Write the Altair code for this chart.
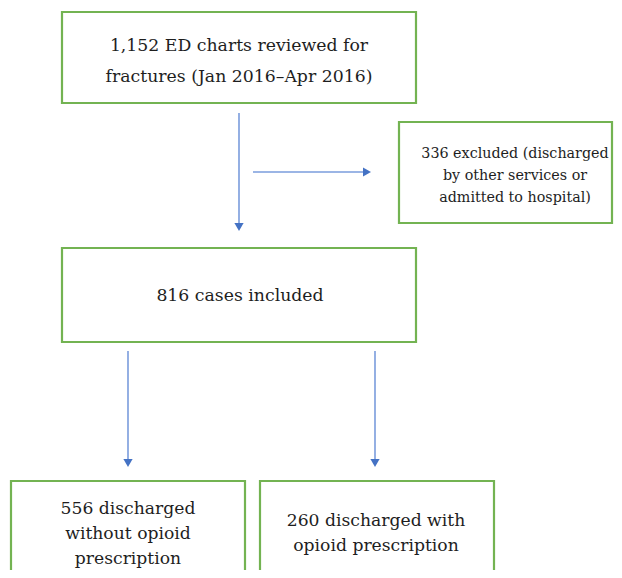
import altair as alt
import pandas as pd

# ---- content (flowchart counts and labels) ----
box_names = ["reviewed", "excluded", "included", "no_opioid", "opioid"]
box_lines = [
    ["1,152 ED charts reviewed for", "fractures (Jan 2016\u2013Apr 2016)"],
    ["336 excluded (discharged", "by other services or", "admitted to hospital)"],
    ["816 cases included"],
    ["556 discharged", "without opioid", "prescription"],
    ["260 discharged with", "opioid prescription"],
]
arrow_from = ["reviewed", "reviewed", "included", "included"]
arrow_to = ["included", "excluded", "no_opioid", "opioid"]

# ---- layout (pixel frame of the page) ----
box_x0 = [62, 399, 62, 11, 260]
box_x1 = [416, 612, 416, 245, 494]
box_y0 = [12, 122, 248, 481, 481]
box_y1 = [103, 223, 342, 600, 600]
text_cx = [239, 515, 240, 128, 376]
text_y0 = [46, 154, 296, 509, 521]
text_step = [31, 22, 0, 25, 25]
text_size = [17.3, 14.3, 17.3, 17.2, 17.2]

arrow_x = [239, 253, 128, 375]
arrow_y = [113, 172, 351, 351]
arrow_x2 = [239, 367, 128, 375]
arrow_y2 = [227, 172, 463, 463]
arrow_shape = ["triangle-down", "triangle-right", "triangle-down", "triangle-down"]

W, H = 606, 562
xs = alt.Scale(domain=[8, 8 + W], nice=False, zero=False)
ys = alt.Scale(domain=[8, 8 + H], nice=False, zero=False, reverse=True)

boxes = pd.DataFrame({"name": box_names, "x0": box_x0, "x1": box_x1, "y0": box_y0, "y1": box_y1})

rows = []
for i, lines in enumerate(box_lines):
    for j, ln in enumerate(lines):
        rows.append({"t": ln, "x": text_cx[i], "y": text_y0[i] + j * text_step[i], "s": text_size[i]})
texts = pd.DataFrame(rows)

arrows = pd.DataFrame({"src": arrow_from, "dst": arrow_to, "x": arrow_x, "y": arrow_y,
                       "x2": arrow_x2, "y2": arrow_y2, "shape": arrow_shape})

rect = alt.Chart(boxes).mark_rect(fill="white", stroke="#73B352", strokeWidth=2.2).encode(
    x=alt.X("x0:Q", scale=xs, axis=None), x2="x1:Q",
    y=alt.Y("y0:Q", scale=ys, axis=None), y2="y1:Q",
)

lines = alt.Chart(arrows).mark_rule(color="#7A9CDC", strokeWidth=1.6).encode(
    x=alt.X("x:Q", scale=xs, axis=None), x2="x2:Q",
    y=alt.Y("y:Q", scale=ys, axis=None), y2="y2:Q",
)

heads = alt.Chart(arrows).mark_point(filled=True, color="#4472C4", opacity=1, size=85).encode(
    x=alt.X("x2:Q", scale=xs, axis=None),
    y=alt.Y("y2:Q", scale=ys, axis=None),
    shape=alt.Shape("shape:N", scale=None, legend=None),
)

label = alt.Chart(texts).mark_text(font="DejaVu Serif",
                                   color="#1e1e1e", align="center", baseline="middle").encode(
    x=alt.X("x:Q", scale=xs, axis=None),
    y=alt.Y("y:Q", scale=ys, axis=None),
    text="t:N",
    size=alt.Size("s:Q", scale=None, legend=None),
)

chart = alt.layer(rect, lines, heads, label).properties(
    width=W, height=H, padding=0, autosize=alt.AutoSizeParams(type="none"), background="white"
).configure_view(stroke=None, clip=True)

chart.save("out.html", embed_options={"renderer": "svg", "actions": False})
